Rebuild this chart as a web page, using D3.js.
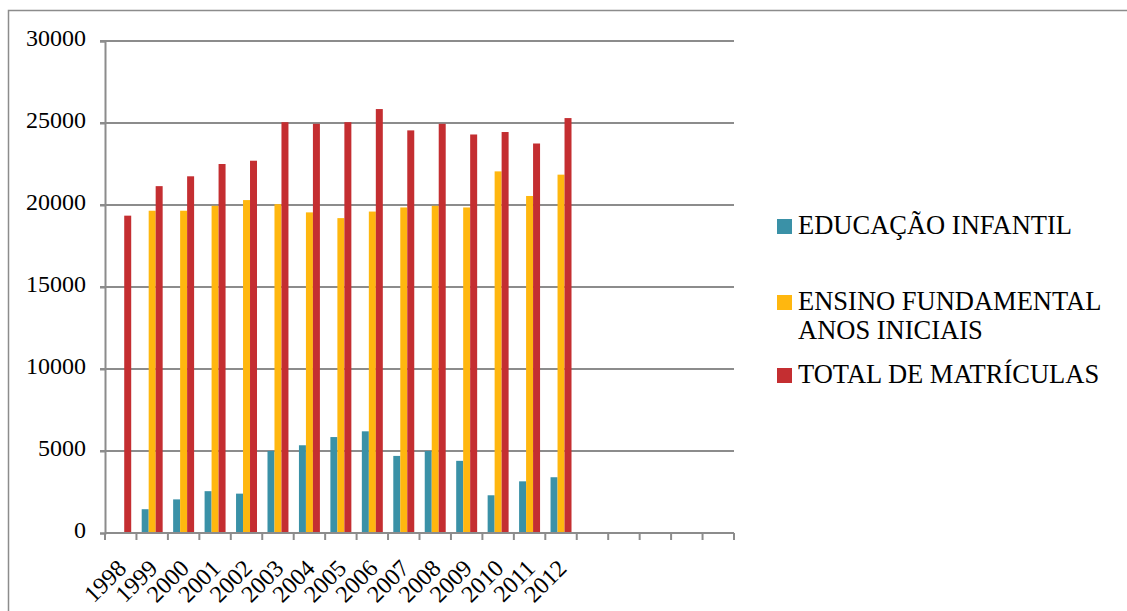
<!DOCTYPE html>
<html>
<head>
<meta charset="utf-8">
<script src="https://cdn.jsdelivr.net/npm/d3@7"></script>
<style>
  html, body { margin: 0; padding: 0; background: #fff; }
  svg text { font-family: "Liberation Serif", "Times New Roman", Times, serif; }
</style>
</head>
<body>
<svg id="chart" width="1127" height="611"></svg>
<script>
// Category slots on the x axis (the last five are empty)
const years = ["1998","1999","2000","2001","2002","2003","2004","2005","2006","2007",
               "2008","2009","2010","2011","2012","","","","",""];

// Enrolments per year
const educacaoInfantil = [null, 1450, 2050, 2550, 2400, 5000, 5350, 5850, 6200, 4700, 5000, 4400, 2300, 3150, 3400];
const ensinoFundamental = [null, 19650, 19650, 19950, 20300, 20050, 19550, 19200, 19600, 19850, 19950, 19850, 22050, 20550, 21850];
const totalMatriculas = [19350, 21150, 21750, 22500, 22700, 25050, 24950, 25050, 25850, 24550, 24950, 24300, 24450, 23750, 25300];

const seriesColors = ["#3A91A7", "#FFB70F", "#C42E31"];
const yTicks = [0, 5000, 10000, 15000, 20000, 25000, 30000];

const series = [educacaoInfantil, ensinoFundamental, totalMatriculas];
const FONT = "'Liberation Serif', 'Times New Roman', Times, serif";

const svg = d3.select("#chart");
const plot = { left: 105, right: 734, top: 41, bottom: 533 };

// Outer frame (left and top edges visible)
svg.append("rect")
  .attr("x", 8.5).attr("y", 10.5)
  .attr("width", 1200).attr("height", 700)
  .attr("fill", "none").attr("stroke", "#8c8c8c").attr("stroke-width", 1.5);

const x = d3.scaleBand().domain(d3.range(years.length)).range([plot.left, plot.right]);
const y = d3.scaleLinear().domain([0, 30000]).range([plot.bottom, plot.top]);

// Three bars per slot with a gap of 1.5 bar widths
const barW = x.bandwidth() / 4.5;

// Gridlines
svg.append("g").selectAll("line").data(yTicks.filter(d => d > 0)).join("line")
  .attr("x1", plot.left - 5).attr("x2", plot.right)
  .attr("y1", d => y(d)).attr("y2", d => y(d))
  .attr("stroke", "#8c8c8c").attr("stroke-width", 2);

// Y axis
const yAxis = svg.append("g").attr("transform", `translate(${plot.left},0)`)
  .call(d3.axisLeft(y).tickValues(yTicks).tickSize(5).tickPadding(14).tickFormat(d3.format("d")));
yAxis.attr("font-family", FONT).attr("font-size", 24);
yAxis.select(".domain").attr("stroke", "#8c8c8c").attr("stroke-width", 2);
yAxis.selectAll(".tick line").attr("stroke", "#8c8c8c").attr("stroke-width", 2);
yAxis.selectAll(".tick text").attr("fill", "#000").attr("dy", "0.2em");

// Bars
series.forEach((vals, si) => {
  svg.append("g").selectAll("rect").data(vals.map((v, i) => ({ v, i })).filter(d => d.v != null)).join("rect")
    .attr("x", d => x(d.i) + barW * 0.75 + si * barW)
    .attr("width", barW)
    .attr("y", d => y(d.v))
    .attr("height", d => y(0) - y(d.v))
    .attr("fill", seriesColors[si]);
});

// X axis
const xAxis = svg.append("g").attr("transform", `translate(0,${plot.bottom})`);
xAxis.append("line").attr("x1", plot.left).attr("x2", plot.right).attr("y1", 0).attr("y2", 0)
  .attr("stroke", "#8c8c8c").attr("stroke-width", 2);
xAxis.selectAll("line.tk").data(d3.range(years.length + 1)).join("line").attr("class", "tk")
  .attr("x1", i => plot.left + i * x.bandwidth()).attr("x2", i => plot.left + i * x.bandwidth())
  .attr("y1", 0).attr("y2", 7).attr("stroke", "#8c8c8c").attr("stroke-width", 2);
xAxis.selectAll("text").data(years.map((l, i) => ({ l, i })).filter(d => d.l)).join("text")
  .attr("transform", d => `translate(${x(d.i) + x.bandwidth() / 2 - 5},25) rotate(-45)`)
  .attr("text-anchor", "end")
  .attr("dy", "0.7em")
  .attr("font-family", FONT)
  .attr("font-size", 24)
  .attr("fill", "#000")
  .text(d => d.l);

// Legend
const legend = [
  { lines: ["EDUCAÇÃO INFANTIL"], y: 234 },
  { lines: ["ENSINO FUNDAMENTAL", "ANOS INICIAIS"], y: 310 },
  { lines: ["TOTAL DE MATRÍCULAS"], y: 383 }
];
legend.forEach((item, i) => {
  svg.append("rect").attr("x", 777).attr("y", item.y - 15).attr("width", 15).attr("height", 15)
    .attr("fill", seriesColors[i]);
  const t = svg.append("text").attr("x", 798).attr("y", item.y)
    .attr("font-family", FONT).attr("font-size", 26.5).attr("fill", "#000");
  item.lines.forEach((ln, j) => {
    t.append("tspan").attr("x", 798).attr("dy", j === 0 ? 0 : 29).text(ln);
  });
});
</script>
</body>
</html>
